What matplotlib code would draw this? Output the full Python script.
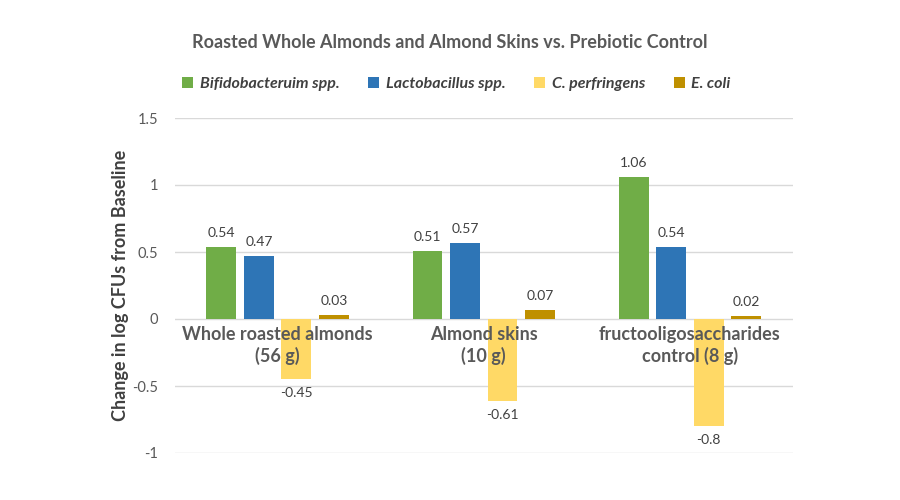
import matplotlib.pyplot as plt
import numpy as np

plt.rcParams['font.family'] = ['Lato', 'DejaVu Sans']

groups = ['Whole roasted almonds\n(56 g)', 'Almond skins\n(10 g)', 'fructooligosaccharides\ncontrol (8 g)']
series = ['Bifidobacteruim spp.', 'Lactobacillus spp.', 'C. perfringens', 'E. coli']
bifido = [0.54, 0.51, 1.06]
lacto = [0.47, 0.57, 0.54]
perf = [-0.45, -0.61, -0.8]
ecoli = [0.03, 0.07, 0.02]
colors = ['#70AD47', '#2E75B6', '#FFD966', '#BF9000']

vals = [bifido, lacto, perf, ecoli]
x = np.arange(len(groups))
w = 0.145
step = 0.182

fig = plt.figure(figsize=(9, 5), dpi=100)
ax = fig.add_axes([0.194, 0.094, 0.687, 0.67])

for i, (name, v, c) in enumerate(zip(series, vals, colors)):
    pos = x + (i - 1.5) * step
    ax.bar(pos, v, width=w, color=c, label=name, zorder=2)
    for px, val in zip(pos, v):
        if val >= 0:
            ax.text(px, val + 0.06, f'{val:g}', ha='center', va='bottom', fontsize=10, color='#404040')
        else:
            ax.text(px, val - 0.06, f'{val:g}', ha='center', va='top', fontsize=10, color='#404040')

for gx, g in zip(x, groups):
    ax.text(gx, -0.05, g, ha='center', va='top', fontsize=13, fontweight='bold',
            color='#595959', linespacing=1.25, zorder=3)

ax.set_xlim(-0.5, 2.5)
ax.set_ylim(-1, 1.5)
ax.set_yticks([-1, -0.5, 0, 0.5, 1, 1.5])
ax.set_yticklabels(['-1', '-0.5', '0', '0.5', '1', '1.5'])
ax.set_xticks([])
ax.grid(axis='y', color='#D9D9D9', linewidth=1, zorder=0)
for s in ax.spines.values():
    s.set_visible(False)
ax.tick_params(axis='y', length=0, labelsize=10.5, labelcolor='#595959', pad=12)
ax.set_ylabel('Change in log CFUs from Baseline', fontsize=13, fontweight='bold', color='#404040', labelpad=2)

fig.text(0.5, 0.915, 'Roasted Whole Almonds and Almond Skins vs. Prebiotic Control',
         ha='center', va='center', fontsize=13, fontweight='bold', color='#595959')
fig.legend(loc='center', bbox_to_anchor=(0.507, 0.832), ncol=4, frameon=False,
           prop={'style': 'italic', 'weight': 'bold', 'size': 11.5}, handlelength=0.7,
           handleheight=0.7, handletextpad=0.4, columnspacing=1.8, labelcolor='#404040')

fig.savefig('out.png', dpi=100)
